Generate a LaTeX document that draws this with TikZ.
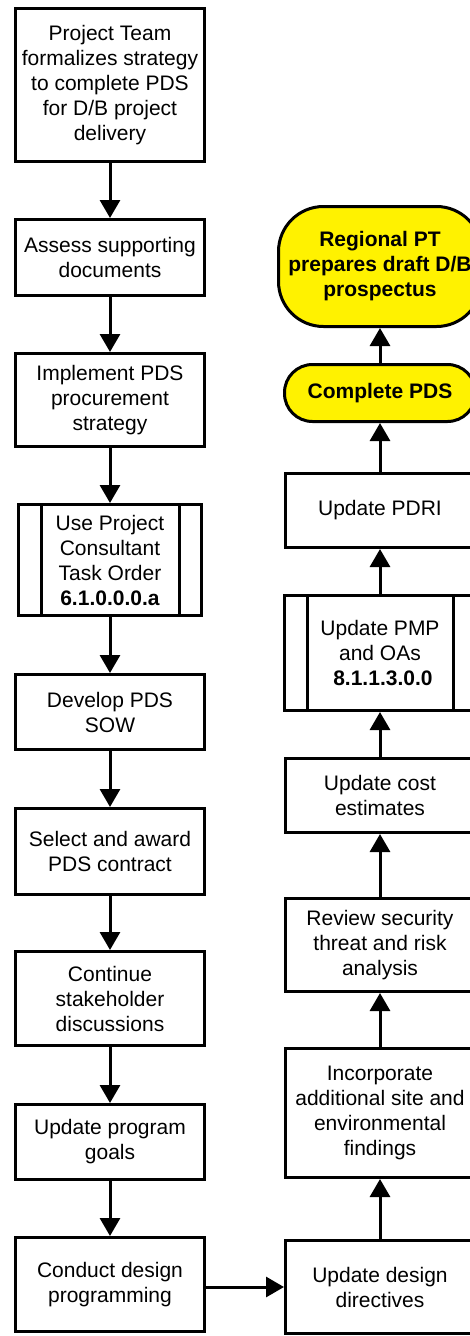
\documentclass[tikz,border=0pt]{standalone}
\usepackage{fontspec}
\setmainfont{Liberation Sans}
\usetikzlibrary{arrows.meta}
\begin{document}
\begin{tikzpicture}[x=1pt,y=-1pt,
  box/.style={draw, line width=3pt, fill=white, align=center,
    font=\fontsize{21}{25}\selectfont, inner sep=0pt, minimum width=189pt},
  term/.style={box, fill=yellow, font=\fontsize{21}{25}\selectfont\bfseries},
  arr/.style={line width=3pt, -{Triangle[length=18pt 0, width=20pt 0]}}]
\useasboundingbox (0,0) rectangle (470,1336);
% left column
\node[box, minimum height=153pt] (b1) at (110,85) {Project Team\\formalizes strategy\\to complete PDS\\for D/B project\\delivery};
\node[box, minimum height=76pt] (b2) at (110,257.5) {Assess supporting\\documents};
\node[box, minimum height=93pt] (b3) at (110,400) {Implement PDS\\procurement\\strategy};
\node[box, minimum height=111pt, minimum width=183pt] (b4) at (110,560) {Use Project\\Consultant\\Task Order\\\textbf{6.1.0.0.0.a}};
\draw[line width=3pt] ([xshift=24pt]b4.north west) -- ([xshift=24pt]b4.south west);
\draw[line width=3pt] ([xshift=-24pt]b4.north east) -- ([xshift=-24pt]b4.south east);
\node[box, minimum height=75pt] (b5) at (110,712) {Develop PDS\\SOW};
\node[box, minimum height=86pt] (b6) at (110,851.5) {Select and award\\PDS contract};
\node[box, minimum height=94pt] (b7) at (110,998.5) {Continue\\stakeholder\\discussions};
\node[box, minimum height=75pt] (b8) at (110,1142) {Update program\\goals};
\node[box, minimum height=94pt] (b9) at (110,1284.5) {Conduct design\\programming};
% right column
\node[term, minimum height=120pt, minimum width=203pt, rounded corners=45pt] (r1) at (380,266.5) {Regional PT\\prepares draft D/B\\prospectus};
\node[term, minimum height=57pt, minimum width=191pt, rounded corners=28pt] (r2) at (380,393) {Complete PDS};
\node[box, minimum height=74pt] (r3) at (380,510.5) {Update PDRI};
\node[box, minimum height=115pt, minimum width=191pt] (r4) at (380,653) {Update PMP\\and OAs\\\textbf{\ 8.1.1.3.0.0}};
\draw[line width=3pt] ([xshift=24pt]r4.north west) -- ([xshift=24pt]r4.south west);
\draw[line width=3pt] ([xshift=-24pt]r4.north east) -- ([xshift=-24pt]r4.south east);
\node[box, minimum height=74pt] (r5) at (380,795.5) {Update cost\\estimates};
\node[box, minimum height=93pt] (r6) at (380,945) {Review security\\threat and risk\\analysis};
\node[box, minimum height=129pt] (r7) at (380,1113) {Incorporate\\additional site and\\environmental\\findings};
\node[box, minimum height=93pt] (r8) at (380,1287) {Update design\\directives};
% connectors
\draw[arr] (b1) -- (b2);
\draw[arr] (b2) -- (b3);
\draw[arr] (b3) -- (b4);
\draw[arr] (b4) -- (b5);
\draw[arr] (b5) -- (b6);
\draw[arr] (b6) -- (b7);
\draw[arr] (b7) -- (b8);
\draw[arr] (b8) -- (b9);
\draw[arr] (b9.east |- r8.west) -- (r8.west);
\draw[arr] (r8) -- (r7);
\draw[arr] (r7) -- (r6);
\draw[arr] (r6) -- (r5);
\draw[arr] (r5) -- (r4);
\draw[arr] (r4) -- (r3);
\draw[arr] (r3) -- (r2);
\draw[arr] (r2) -- (r1);
\end{tikzpicture}
\end{document}
